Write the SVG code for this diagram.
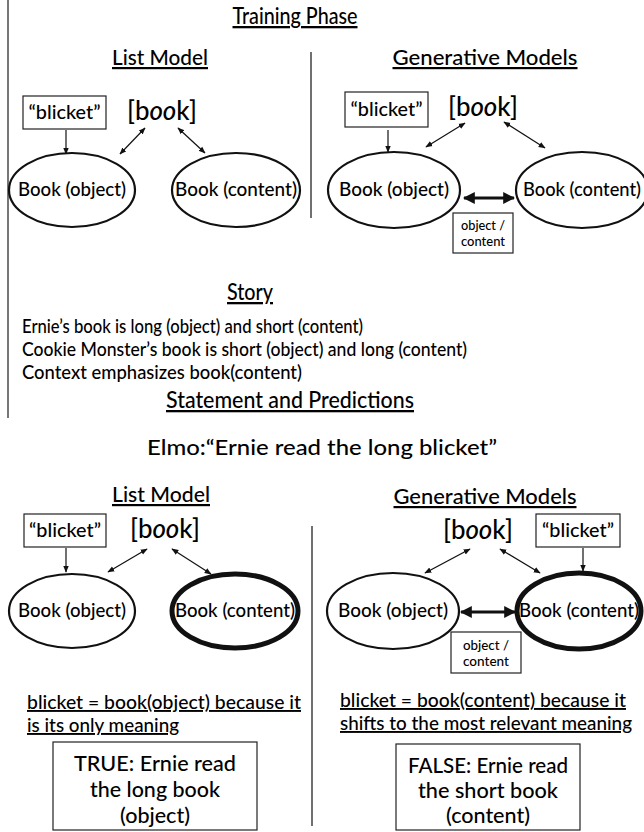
<svg xmlns="http://www.w3.org/2000/svg" width="644" height="832" viewBox="0 0 644 832">
<defs>
<marker id="ah" viewBox="0 0 10 10" refX="9" refY="5" markerWidth="7" markerHeight="7" orient="auto-start-reverse" markerUnits="userSpaceOnUse"><path d="M0,1 L10,5 L0,9 z" fill="#111"/></marker>
<marker id="ahb" viewBox="0 0 10 10" refX="9" refY="5" markerWidth="12" markerHeight="12" orient="auto-start-reverse" markerUnits="userSpaceOnUse"><path d="M0,0 L10,5 L0,10 z" fill="#111"/></marker>
</defs>
<style>
text{font-family:Lato,"Open Sans","Liberation Sans",sans-serif;fill:#000;font-weight:500}
.h1{font-size:23px;text-decoration:underline;text-anchor:middle}
.h2{font-size:22px;text-decoration:underline;text-anchor:middle}
.lbl{font-size:19px;text-anchor:middle}
.bk{font-size:26px;text-anchor:middle}
.small{font-size:13px;text-anchor:middle}
.body{font-size:20px}
.ul{font-size:19px;text-decoration:underline}
.res{font-size:22px;text-anchor:middle}
.box{fill:#fff;stroke:#222;stroke-width:1.2}
.ell{fill:#fff;stroke:#111;stroke-width:2.2}
.thick{fill:#fff;stroke:#111;stroke-width:5}
.ln{stroke:#111;stroke-width:1.2;fill:none}
.arr{stroke:#111;stroke-width:1.2;fill:none;marker-end:url(#ah)}
.darr{stroke:#111;stroke-width:1.2;fill:none;marker-start:url(#ah);marker-end:url(#ah)}
.barr{stroke:#111;stroke-width:3;fill:none;marker-start:url(#ahb);marker-end:url(#ahb)}
.it{font-style:italic}
</style>

<g id="dividers">
<line x1="8" y1="0" x2="8" y2="418" stroke="#777" stroke-width="2"/>
<line class="ln" x1="311" y1="52" x2="311" y2="218" stroke-width="1.5"/>
<line class="ln" x1="312" y1="526" x2="312" y2="826" stroke-width="1.5"/>
</g>

<g id="headings">
<text class="h1" x="295" y="24" textLength="125" lengthAdjust="spacingAndGlyphs">Training Phase</text>
<text class="h2" x="160" y="65" textLength="96" lengthAdjust="spacingAndGlyphs">List Model</text>
<text class="h2" x="485" y="65" textLength="185" lengthAdjust="spacingAndGlyphs">Generative Models</text>
<text class="h1" x="250" y="300" textLength="46" lengthAdjust="spacingAndGlyphs">Story</text>
<text class="h1" x="290" y="408" textLength="248" lengthAdjust="spacingAndGlyphs">Statement and Predictions</text>
<text class="res" x="322" y="455" textLength="350" lengthAdjust="spacingAndGlyphs">Elmo:“Ernie read the long blicket”</text>
<text class="h2" x="161" y="502" textLength="98" lengthAdjust="spacingAndGlyphs">List Model</text>
<text class="h2" x="485" y="504" textLength="183" lengthAdjust="spacingAndGlyphs">Generative Models</text>
</g>

<g id="story">
<text class="body" x="22" y="333" textLength="341" lengthAdjust="spacingAndGlyphs">Ernie’s book is long (object) and short (content)</text>
<text class="body" x="22" y="356" textLength="445" lengthAdjust="spacingAndGlyphs">Cookie Monster’s book is short (object) and long (content)</text>
<text class="body" x="22" y="379" textLength="280" lengthAdjust="spacingAndGlyphs">Context emphasizes book(content)</text>
</g>

<g id="connectors">
<line class="arr" x1="66" y1="130" x2="66" y2="154"/>
<line class="darr" x1="120" y1="154" x2="145" y2="128"/>
<line class="darr" x1="178" y1="128" x2="205" y2="153"/>
<line class="arr" x1="388" y1="130" x2="388" y2="152"/>
<line class="darr" x1="426" y1="147" x2="465" y2="123"/>
<line class="darr" x1="504" y1="122" x2="545" y2="148"/>
<line class="barr" x1="464" y1="198" x2="514" y2="198"/>
<line class="arr" x1="66" y1="548" x2="66" y2="572"/>
<line class="darr" x1="108" y1="572" x2="147" y2="549"/>
<line class="darr" x1="172" y1="549" x2="211" y2="574"/>
<line class="darr" x1="425" y1="573" x2="470" y2="549"/>
<line class="darr" x1="500" y1="549" x2="540" y2="573"/>
<line class="arr" x1="583" y1="548" x2="583" y2="571"/>
<line class="barr" x1="461" y1="612" x2="515" y2="612"/>
</g>

<g id="t-blicket"><rect class="box" x="23" y="96" width="83" height="33"/><text class="lbl" x="64.5" y="119" textLength="72" lengthAdjust="spacingAndGlyphs">“blicket”</text></g>
<g id="t-book"><text class="bk" x="162" y="120" textLength="70" lengthAdjust="spacingAndGlyphs">[b<tspan class="it">oo</tspan>k]</text></g>
<g id="t-obj"><ellipse class="ell" cx="72" cy="190" rx="63" ry="37"/><text class="lbl" x="72" y="196" textLength="108" lengthAdjust="spacingAndGlyphs">Book (object)</text></g>
<g id="t-con"><ellipse class="ell" cx="236" cy="190" rx="64" ry="37"/><text class="lbl" x="236" y="196" textLength="122" lengthAdjust="spacingAndGlyphs">Book (content)</text></g>

<g id="g-blicket"><rect class="box" x="345" y="92" width="83" height="35"/><text class="lbl" x="386.5" y="116" textLength="72" lengthAdjust="spacingAndGlyphs">“blicket”</text></g>
<g id="g-book"><text class="bk" x="483" y="116" textLength="70" lengthAdjust="spacingAndGlyphs">[b<tspan class="it">oo</tspan>k]</text></g>
<g id="g-obj"><ellipse class="ell" cx="394" cy="190" rx="66" ry="38"/><text class="lbl" x="394" y="196" textLength="110" lengthAdjust="spacingAndGlyphs">Book (object)</text></g>
<g id="g-con"><ellipse class="ell" cx="582" cy="190" rx="66" ry="38"/><text class="lbl" x="582" y="196" textLength="118" lengthAdjust="spacingAndGlyphs">Book (content)</text></g>
<g id="g-oc"><rect class="box" x="453" y="213" width="60" height="40"/><text class="small" x="483" y="230" textLength="44" lengthAdjust="spacingAndGlyphs">object /</text><text class="small" x="483" y="246" textLength="44" lengthAdjust="spacingAndGlyphs">content</text></g>

<g id="s-blicket"><rect class="box" x="24" y="514" width="82" height="33"/><text class="lbl" x="65" y="537" textLength="72" lengthAdjust="spacingAndGlyphs">“blicket”</text></g>
<g id="s-book"><text class="bk" x="165" y="538" textLength="70" lengthAdjust="spacingAndGlyphs">[b<tspan class="it">oo</tspan>k]</text></g>
<g id="s-obj"><ellipse class="ell" cx="72" cy="611" rx="63" ry="37"/><text class="lbl" x="72" y="617" textLength="108" lengthAdjust="spacingAndGlyphs">Book (object)</text></g>
<g id="s-con"><ellipse class="thick" cx="235" cy="611" rx="63" ry="37"/><text class="lbl" x="235" y="617" textLength="120" lengthAdjust="spacingAndGlyphs">Book (content)</text></g>

<g id="p-book"><text class="bk" x="478" y="539" textLength="70" lengthAdjust="spacingAndGlyphs">[b<tspan class="it">oo</tspan>k]</text></g>
<g id="p-blicket"><rect class="box" x="536" y="514" width="84" height="33"/><text class="lbl" x="578" y="537" textLength="72" lengthAdjust="spacingAndGlyphs">“blicket”</text></g>
<g id="p-obj"><ellipse class="ell" cx="393" cy="611" rx="66" ry="38"/><text class="lbl" x="393" y="617" textLength="110" lengthAdjust="spacingAndGlyphs">Book (object)</text></g>
<g id="p-con"><ellipse class="thick" cx="579" cy="611" rx="62" ry="38"/><text class="lbl" x="579" y="617" textLength="120" lengthAdjust="spacingAndGlyphs">Book (content)</text></g>
<g id="p-oc"><rect class="box" x="451" y="632" width="70" height="41"/><text class="small" x="486" y="650" textLength="46" lengthAdjust="spacingAndGlyphs">object /</text><text class="small" x="486" y="666" textLength="46" lengthAdjust="spacingAndGlyphs">content</text></g>

<g id="conclusions">
<text class="ul" x="27" y="709" textLength="274" lengthAdjust="spacingAndGlyphs">blicket = book(object) because it</text>
<text class="ul" x="27" y="732" textLength="152" lengthAdjust="spacingAndGlyphs">is its only meaning</text>
<text class="ul" x="340" y="707" textLength="286" lengthAdjust="spacingAndGlyphs">blicket = book(content) because it</text>
<text class="ul" x="340" y="730" textLength="292" lengthAdjust="spacingAndGlyphs">shifts to the most relevant meaning</text>
</g>

<g id="r-true"><rect class="box" x="53" y="742" width="204" height="88"/><text class="res" x="155" y="771" textLength="162" lengthAdjust="spacingAndGlyphs">TRUE:  Ernie read</text><text class="res" x="155" y="797" textLength="130" lengthAdjust="spacingAndGlyphs">the long book</text><text class="res" x="155" y="823" textLength="70" lengthAdjust="spacingAndGlyphs">(object)</text></g>
<g id="r-false"><rect class="box" x="396" y="744" width="184" height="86"/><text class="res" x="488" y="773" textLength="160" lengthAdjust="spacingAndGlyphs">FALSE: Ernie read</text><text class="res" x="488" y="798" textLength="140" lengthAdjust="spacingAndGlyphs">the short book</text><text class="res" x="488" y="823" textLength="84" lengthAdjust="spacingAndGlyphs">(content)</text></g>
</svg>
